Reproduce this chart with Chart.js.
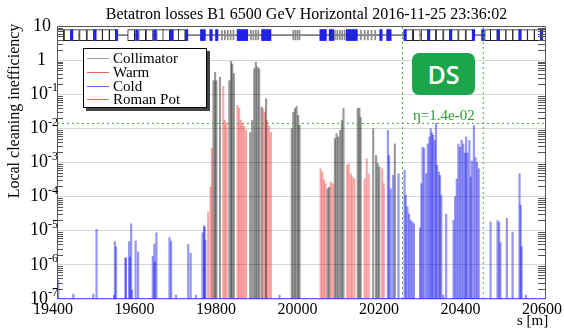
<!DOCTYPE html>
<html><head><meta charset="utf-8">
<script src="https://cdn.jsdelivr.net/npm/chart.js@4.4.1/dist/chart.umd.min.js"></script>
<style>
html,body{margin:0;padding:0;background:#fff;}
#wrap{position:relative;width:564px;height:331px;overflow:hidden;font-family:"Liberation Serif","DejaVu Serif",serif;}
canvas{position:absolute;left:0;top:0;}
.t{position:absolute;white-space:nowrap;color:#000;}
#title{left:62px;width:489px;top:4px;text-align:center;font-size:16px;line-height:19px;}
#ytitle{left:-86px;top:101px;width:200px;height:20px;line-height:20px;text-align:center;font-size:16px;transform:rotate(-90deg);}
#legend{position:absolute;left:83px;top:48px;width:122px;height:58px;border:1px solid #000;background:#fff;box-shadow:3px 3px 0 #444;}
.le{position:absolute;left:29px;height:14px;font-size:15px;line-height:14px;white-space:nowrap;}
.ll{position:absolute;left:3px;width:22px;height:1px;}
#ds{left:412px;top:53px;width:63px;height:42px;border-radius:7px;background:#1ca64c;color:#fff;font-family:"Open Sans",sans-serif;font-weight:600;font-size:25px;line-height:42px;text-align:center;}
#eta{left:413px;top:107px;font-size:15px;line-height:17px;color:#2f9a2f;}
#sm{left:517px;top:312px;font-size:15px;line-height:17px;}
</style></head>
<body>
<div id="wrap">
<canvas id="c" width="564" height="331"></canvas>
<div class="t" id="title">Betatron losses B1 6500 GeV Horizontal 2016-11-25 23:36:02</div>
<div class="t" id="ytitle">Local cleaning inefficiency</div>
<div id="legend">
  <div class="ll" style="top:9px;background:#999999"></div><div class="le" style="top:2px">Collimator</div>
  <div class="ll" style="top:23px;background:#e86060"></div><div class="le" style="top:16px">Warm</div>
  <div class="ll" style="top:37px;background:#6060e8"></div><div class="le" style="top:30px">Cold</div>
  <div class="ll" style="top:50px;background:#4cb84c"></div><div class="le" style="top:43px">Roman Pot</div>
</div>
<div class="t" id="ds">DS</div>
<div class="t" id="eta">η=1.4e-02</div>
<div class="t" id="sm">s [m]</div>
</div>
<script>
// ---- data ----
const xTicks = [19400, 19600, 19800, 20000, 20200, 20400, 20600];
const yDecades = [1e-7, 1e-6, 1e-5, 1e-4, 1e-3, 1e-2, 1e-1, 1, 10];

const collS = [19784,19788,19791,19800,19823,19827,19830,19834,19874,19879,19884,19888,19892,19896,19902,19913,
  19976,19980,19984,19988,19992,19995,20064,20068,20082,20086,20090,20095,20099,20103,20138,20142,20145,
  20176,20183,20187,20191,20229];
const collV = [0.25,0.44,0.25,0.32,0.25,0.93,0.77,0.40,0.0075,0.017,0.56,0.87,0.63,0.56,0.042,0.074,
  0.0098,0.030,0.038,0.044,0.024,0.0123,1.7e-4,1.9e-4,5e-3,7e-3,5.6e-3,8.7e-3,0.017,0.039,0.039,0.039,0.021,
  0.0098,1.6e-3,9.3e-4,7.4e-4,3.5e-3];

const warmS = [19771,19777,19780,19808,19812,19816,19843,19847,19851,19855,19859,19864,19906,19910,19915,19920,19925,
  20047,20051,20055,20059,20072,20077,20112,20116,20121,20125,20130,20155,20160,20165,20198,20202];
const warmV = [3.6e-5,1.9e-4,2.6e-3,0.17,0.017,0.014,0.047,0.039,0.017,0.014,0.0115,0.0091,0.037,0.03,0.017,0.012,0.0077,
  6.6e-4,5.2e-4,3.1e-4,2.4e-4,2.7e-4,2.4e-4,8.3e-4,9.3e-4,4.7e-4,3.8e-4,3.3e-4,3.3e-4,1.3e-3,4.7e-4,6.6e-4,2.4e-4];

const coldS = [19403,19440,19489,19497,19540,19542,19545,19568,19569,19577,19579,19582,19584,19593,19599,
  19635,19639,19640,19644,19676,19680,19692,19722,19728,19741,19757,19761,19762,19764,19946,
  20212,20215,20219,20225,20238,20253,20256,20260,20264,20268,20272,20276,20291,20294,20297,
  20301,20306,20310,20314,20317,20320,20323,20327,20330,20333,20337,20340,20343,20348,20355,
  20373,20377,20381,20385,20389,20393,20397,20401,20404,20407,20412,20415,20418,20423,20427,
  20431,20435,20464,20481,20485,20488,20504,20518,20535,20538,20540,20551];
const coldV = [3.6e-7,1.4e-7,1.4e-7,1.1e-5,1.3e-7,4.8e-6,3.4e-6,1.6e-6,1.6e-6,4.8e-6,1.7e-6,1.6e-5,1.8e-7,5e-6,2.4e-6,
  1.8e-6,4.1e-6,1.2e-6,8.7e-6,6.3e-6,5e-6,1.3e-7,4e-6,2.2e-6,1.3e-7,8.7e-6,1.4e-5,1.3e-5,5.3e-6,1.3e-7,
  8.7e-3,1.6e-3,1.7e-4,4.2e-4,4.7e-4,5.9e-4,1.1e-4,5e-5,3.1e-5,2e-5,1.8e-5,1.6e-5,1.2e-5,2.4e-4,2.8e-3,
  2.6e-3,4.7e-4,3.5e-3,5.6e-3,9.8e-3,7.5e-3,6.3e-3,4.5e-3,0.014,8.3e-4,5.2e-4,4.2e-4,1.1e-4,1.3e-7,3.1e-5,
  2e-5,1e-4,3.3e-4,3.5e-3,2.8e-3,4.5e-3,3.5e-3,1.9e-3,5.6e-3,1.9e-3,4.5e-3,3.8e-4,1.1e-3,0.012,1.4e-3,
  1e-3,6.6e-4,1.8e-5,2e-5,1.8e-5,4.5e-6,2.3e-5,9.2e-6,4.7e-4,5.6e-5,3.4e-6,1.3e-7];

// lattice schematic (element centres in s)
const dipoleS = [19408,19426,19446,19464,19482,19503,19520,19537,19582,19609,19627,19653,19668,19693,19706,
  20264,20283,20302,20321,20339,20357,20376,20394,20412,20458,20472,20493,20510,20527,20546,20563,20580,20597];
const quadS = [19436,19493,19546,19596,19640,19681,19718,19755,19761,19778,19792,19845,19850,19855,19860,19865,
  19905,19910,19917,19922,20048,20053,20058,20071,20076,20113,20118,20123,20128,20134,20195,20212,20217,
  20254,20312,20366,20422,20445,20483,20536,20589];
const otherS = [19805,19812,19819,19826,19833,19876,19882,19888,19894,19980,19985,19990,19995,
  20082,20088,20094,20100,20106,20146,20155,20163,20172,20181];

const etaRP = 0.014;          // Roman Pot cleaning inefficiency level
const dsBounds = [20248, 20446];

// ---- layout constants (not data) ----
const STRIP_LO = 3.74, STRIP_MID = 5.42, STRIP_HI = 7.85;
const X_MIN = 19400, X_MAX = 20600, Y_MIN = 1e-7, Y_MAX = 10;
const SERIF = '"Liberation Serif","DejaVu Serif",serif';

const pts = (s, v) => s.map((x, i) => ({x: x, y: v[i]}));
const strip = (s, lo, hi) => s.map(x => ({x: x, y: [lo, hi]}));

const decor = {
  id: 'decor',
  afterDraw(chart) {
    const ctx = chart.ctx, ys = chart.scales.y, ca = chart.chartArea;
    ctx.save();
    ctx.strokeStyle = '#555'; ctx.lineWidth = 1;
    ctx.beginPath();
    for (let d = 0; d < yDecades.length - 1; d++) {
      for (let k = 2; k <= 9; k++) {
        const py = Math.round(ys.getPixelForValue(yDecades[d] * k)) + 0.5;
        ctx.moveTo(ca.left, py); ctx.lineTo(ca.left + 6, py);
        ctx.moveTo(ca.right - 8, py); ctx.lineTo(ca.right, py);
      }
    }
    ctx.stroke();
    ctx.strokeStyle = '#555';
    ctx.beginPath();
    ctx.moveTo(ca.left + 0.5, ca.bottom); ctx.lineTo(ca.left + 0.5, ca.top + 0.5);
    ctx.lineTo(ca.right - 0.5, ca.top + 0.5); ctx.lineTo(ca.right - 0.5, ca.bottom);
    ctx.stroke();
    ctx.strokeStyle = 'rgba(60,60,230,0.8)';
    ctx.beginPath();
    ctx.moveTo(ca.left, ca.bottom - 0.5); ctx.lineTo(ca.right, ca.bottom - 0.5);
    ctx.stroke();
    ctx.fillStyle = '#000'; ctx.textBaseline = 'middle';
    yDecades.forEach(v => {
      const n = Math.round(Math.log10(v));
      const py = ys.getPixelForValue(v);
      ctx.font = '18px ' + SERIF; ctx.textAlign = 'right';
      if (n === 0) { ctx.fillText('1', 46, py); }
      else if (n === 1) { ctx.fillText('10', 51, py); }
      else {
        ctx.fillText('10', 48, py);
        ctx.font = '12px ' + SERIF; ctx.textAlign = 'left';
        ctx.fillText(String(n), 48, py - 6);
      }
    });
    ctx.restore();
  }
};

const green = 'rgb(60,170,60)';
new Chart(document.getElementById('c'), {
  type: 'bar',
  data: {
    datasets: [
      {label: 'Collimator', data: pts(collS, collV), backgroundColor: 'rgba(0,0,0,0.4)', barThickness: 1.5, order: 5},
      {label: 'Warm', data: pts(warmS, warmV), backgroundColor: 'rgba(235,40,40,0.4)', barThickness: 1.5, order: 6},
      {label: 'Cold', data: pts(coldS, coldV), backgroundColor: 'rgba(20,20,230,0.45)', barThickness: 1.5, order: 7},
      {type: 'line', label: 'beamline', data: [{x: X_MIN, y: STRIP_MID}, {x: X_MAX, y: STRIP_MID}],
        borderColor: '#222', borderWidth: 1, pointRadius: 0, order: 10},
      {label: 'dipoles', data: strip(dipoleS, STRIP_LO, STRIP_HI), backgroundColor: '#fff', borderColor: '#222',
        borderWidth: 1, borderSkipped: false, barThickness: 7, order: 2},
      {label: 'quads', data: strip(quadS, STRIP_LO, STRIP_HI), backgroundColor: '#2222e6', barThickness: 2.5, order: 1},
      {label: 'other', data: strip(otherS, STRIP_LO * 1.05, STRIP_HI * 0.95), backgroundColor: '#888', barThickness: 1, order: 1},
      {type: 'line', label: 'Roman Pot', data: [{x: X_MIN, y: etaRP}, {x: X_MAX, y: etaRP}],
        borderColor: green, borderWidth: 1, borderDash: [2, 3], pointRadius: 0, order: 0},
      {type: 'line', label: 'DS start', data: [{x: dsBounds[0], y: Y_MIN}, {x: dsBounds[0], y: Y_MAX}],
        borderColor: green, borderWidth: 1, borderDash: [2, 3], pointRadius: 0, order: 0},
      {type: 'line', label: 'DS end', data: [{x: dsBounds[1], y: Y_MIN}, {x: dsBounds[1], y: Y_MAX}],
        borderColor: green, borderWidth: 1, borderDash: [2, 3], pointRadius: 0, order: 0}
    ]
  },
  options: {
    responsive: false, animation: false, devicePixelRatio: 1,
    datasets: {bar: {grouped: false}},
    layout: {autoPadding: false, padding: {left: 0, right: 18, top: 26, bottom: 0}},
    plugins: {legend: {display: false}, tooltip: {enabled: false}, title: {display: false}},
    scales: {
      x: {
        type: 'linear', min: X_MIN, max: X_MAX, offset: false,
        grid: {display: false}, border: {display: false},
        afterBuildTicks: s => { s.ticks = xTicks.map(v => ({value: v})); },
        afterFit: s => { s.height = 32; },
        ticks: {color: '#000', font: {family: SERIF, size: 16}, padding: -7, labelOffset: -4, maxRotation: 0, autoSkip: false,
          callback: v => String(v)}
      },
      y: {
        type: 'logarithmic', min: Y_MIN, max: Y_MAX,
        afterBuildTicks: s => { s.ticks = yDecades.map(v => ({value: v})); },
        afterFit: s => { s.width = 57; },
        grid: {color: 'rgba(0,0,0,0.16)', drawTicks: false}, border: {display: false},
        ticks: {display: false}
      }
    }
  },
  plugins: [decor]
});
</script>
</body></html>
